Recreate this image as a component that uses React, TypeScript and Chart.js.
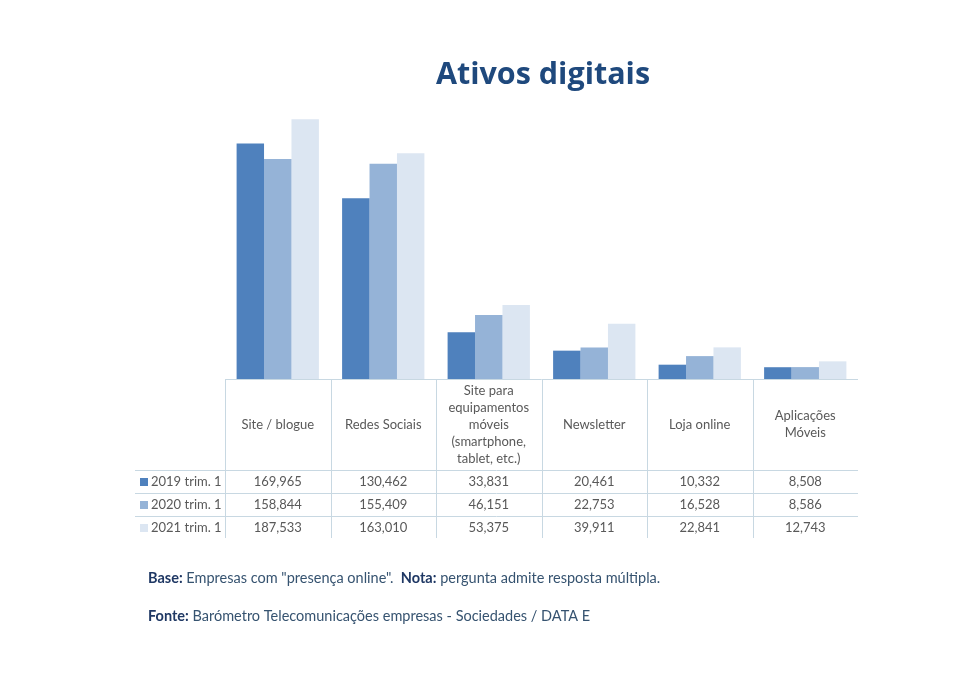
import React, { useEffect, useRef } from "react";
import { Chart, registerables } from "chart.js";

Chart.register(...registerables);

const categories: string[][] = [
  ["Site / blogue"],
  ["Redes Sociais"],
  ["Site para", "equipamentos", "móveis", "(smartphone,", "tablet, etc.)"],
  ["Newsletter"],
  ["Loja online"],
  ["Aplicações", "Móveis"],
];
const seriesNames = ["2019 trim. 1", "2020 trim. 1", "2021 trim. 1"];
const values2019 = [169965, 130462, 33831, 20461, 10332, 8508];
const values2020 = [158844, 155409, 46151, 22753, 16528, 8586];
const values2021 = [187533, 163010, 53375, 39911, 22841, 12743];
const seriesColors = ["#4F81BD", "#95B3D7", "#DCE6F2"];
const title = "Ativos digitais";
const footBaseLabel = "Base:";
const footBaseText = " Empresas com \"presença online\".  ";
const footNotaLabel = "Nota:";
const footNotaText = " pergunta admite resposta múltipla.";
const footFonteLabel = "Fonte:";
const footFonteText = " Barómetro Telecomunicações empresas - Sociedades / DATA E";

const FONT = "Lato, 'Open Sans', sans-serif";
const fmt = (v: number) => v.toLocaleString("en-US");

const tablePlugin = {
  id: "tablePlugin",
  afterDraw(chart: any) {
    const ctx = chart.ctx as CanvasRenderingContext2D;
    const area = chart.chartArea;
    const xs = chart.scales.x;
    const n = categories.length;
    const step = (area.right - area.left) / n;
    const headerBottom = 470;
    const rowH = 23;
    const tableLeft = 135;
    const tableBottom = headerBottom + rowH * 3 - 1;
    const seriesVals = [values2019, values2020, values2021];
    ctx.save();

    // Title
    ctx.fillStyle = "#1F497D";
    ctx.font = `bold 30.5px 'Open Sans', sans-serif`;
    ctx.textAlign = "center";
    ctx.textBaseline = "middle";
    ctx.fillText(title, 543, 75);

    // grid lines
    ctx.strokeStyle = "#C8D8E2";
    ctx.lineWidth = 1;
    ctx.beginPath();
    ctx.moveTo(area.left, area.bottom + 0.5);
    ctx.lineTo(area.right, area.bottom + 0.5);
    for (let r = 0; r < 3; r++) {
      const y = Math.round(headerBottom + r * rowH) + 0.5;
      ctx.moveTo(tableLeft, y);
      ctx.lineTo(area.right, y);
    }
    for (let i = 0; i < n; i++) {
      const x = Math.round(area.left + i * step) + 0.5;
      ctx.moveTo(x, area.bottom);
      ctx.lineTo(x, tableBottom);
    }
    ctx.stroke();

    // header labels
    ctx.fillStyle = "#595959";
    ctx.font = `13px ${FONT}`;
    ctx.textAlign = "center";
    ctx.textBaseline = "middle";
    const lh = 17;
    const hc = (area.bottom + headerBottom) / 2;
    categories.forEach((lines, i) => {
      const cx = xs.getPixelForValue(i);
      const y0 = hc - ((lines.length - 1) * lh) / 2;
      lines.forEach((ln, j) => ctx.fillText(ln, cx, y0 + j * lh));
    });

    // rows
    seriesVals.forEach((vals, r) => {
      const cy = headerBottom + r * rowH + rowH / 2 + 0.5;
      vals.forEach((v, i) => {
        ctx.fillStyle = "#595959";
        ctx.textAlign = "center";
        ctx.fillText(fmt(v), xs.getPixelForValue(i), cy);
      });
      ctx.fillStyle = seriesColors[r];
      ctx.fillRect(140, Math.round(cy - 4), 8, 8);
      ctx.fillStyle = "#595959";
      ctx.textAlign = "left";
      ctx.fillText(seriesNames[r], 151, cy);
    });

    // footer
    const drawRich = (parts: [string, boolean][], x: number, y: number) => {
      let cx = x;
      ctx.textAlign = "left";
      for (const [t, bold] of parts) {
        ctx.font = `${bold ? "bold " : ""}14.5px ${FONT}`;
        ctx.fillStyle = bold ? "#1F3864" : "#365370";
        ctx.fillText(t, cx, y);
        cx += ctx.measureText(t).width;
      }
    };
    drawRich(
      [
        [footBaseLabel, true],
        [footBaseText, false],
        [footNotaLabel, true],
        [footNotaText, false],
      ],
      148,
      578
    );
    drawRich(
      [
        [footFonteLabel, true],
        [footFonteText, false],
      ],
      148,
      616
    );
    ctx.restore();
  },
};

export default function App() {
  const ref = useRef<HTMLCanvasElement | null>(null);
  useEffect(() => {
    if (!ref.current) return;
    const chart = new Chart(ref.current, {
      type: "bar",
      data: {
        labels: categories.map((c) => c.join(" ")),
        datasets: [
          { label: seriesNames[0], data: values2019, backgroundColor: seriesColors[0] },
          { label: seriesNames[1], data: values2020, backgroundColor: seriesColors[1] },
          { label: seriesNames[2], data: values2021, backgroundColor: seriesColors[2] },
        ],
      },
      options: {
        animation: false,
        responsive: false,
        maintainAspectRatio: false,
        devicePixelRatio: 1,
        layout: { padding: { left: 225, right: 109, top: 102, bottom: 302 } },
        datasets: { bar: { categoryPercentage: 0.78, barPercentage: 1.0 } },
        scales: {
          x: { display: false },
          y: { display: false, min: 0, max: 200000 },
        },
        plugins: {
          legend: { display: false },
          title: { display: false },
          tooltip: { enabled: false },
        },
      },
      plugins: [tablePlugin],
    });
    return () => chart.destroy();
  }, []);
  return (
    <div style={{ position: "fixed", left: 0, top: 0, width: 967, height: 681, background: "#fff" }}>
      <canvas ref={ref} width={967} height={681} style={{ width: 967, height: 681 }} />
    </div>
  );
}
